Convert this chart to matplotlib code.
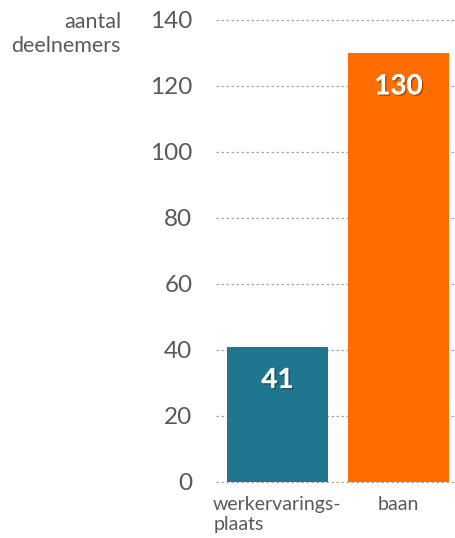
import matplotlib
matplotlib.use("Agg")
import matplotlib.pyplot as plt
import matplotlib.patheffects as pe

categories = ["werkervarings-\nplaats", "baan"]
values = [41, 130]
colors = ["#20768f", "#ff6d00"]
yticks = [0, 20, 40, 60, 80, 100, 120, 140]

plt.rcParams['font.family'] = ['Lato', 'DejaVu Sans']
fig = plt.figure(figsize=(4.55, 5.38), dpi=100)
ax = fig.add_axes([216/455, 1-482/538, 1-216/455, (482-20)/538])

x = list(range(len(categories)))
bars = ax.bar(x, values, width=0.835, color=colors, zorder=3)
ax.set_xlim(-0.508, 1.467)
ax.set_ylim(0, 140)
ax.set_yticks(yticks)
ax.set_yticklabels([str(t) for t in yticks], fontsize=17.5, color="#595959")
ax.tick_params(axis='y', length=0, pad=17)
ax.tick_params(axis='x', length=0)
ax.set_xticks([])
for s in ax.spines.values():
    s.set_visible(False)
for t in yticks:
    ax.axhline(t, color="#a6a6a6", linestyle=(0, (2, 2)), linewidth=0.9, zorder=1, clip_on=False)

for xi, cat in zip(x, categories):
    ax.annotate(cat, (xi, 0), xytext=(0, -10), textcoords='offset points',
                ha='center', va='top', multialignment='left', fontsize=14, color="#595959",
                linespacing=1.2, annotation_clip=False)

for xi, v in zip(x, values):
    ax.annotate(str(v), (xi, v), xytext=(0, -24), textcoords='offset points',
                ha='center', va='center', fontsize=20, fontweight='bold', color='white',
                path_effects=[pe.withSimplePatchShadow(offset=(1, -1), shadow_rgbFace='black', alpha=0.35), pe.Normal()],
                zorder=5)

fig.text(121/455, 1-34/538, "aantal\ndeelnemers", ha='right', va='center', fontsize=15.5,
         color="#595959", multialignment='right', linespacing=1.2)

fig.savefig("out.png", dpi=100)
